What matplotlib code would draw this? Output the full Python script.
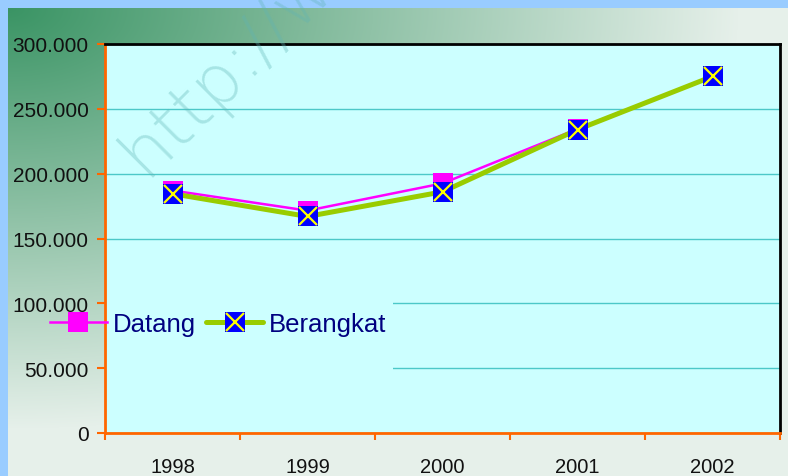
import numpy as np
import matplotlib
matplotlib.use('Agg')
import matplotlib.pyplot as plt
from matplotlib.lines import Line2D
from matplotlib.legend_handler import HandlerTuple
from matplotlib.patches import Rectangle

plt.rcParams['font.family'] = ['Liberation Sans', 'DejaVu Sans']

# ---- data ----
years = ['1998', '1999', '2000', '2001', '2002']
datang = [187000, 171500, 192500, 234500, 275000]
berangkat = [184500, 167000, 186000, 234000, 275000]
yticks = [0, 50000, 100000, 150000, 200000, 250000, 300000]
ytick_labels = ['0', '50.000', '100.000', '150.000', '200.000', '250.000', '300.000']
series_names = ['Datang', 'Berangkat']

W, H = 788, 477
fig = plt.figure(figsize=(W / 100, H / 100), dpi=100)

# ---- background gradient with light-blue border ----
yy, xx = np.mgrid[0:H, 0:W]
t = np.sqrt(((xx - 8) / 730.0) ** 2 + ((yy - 9) / 420.0) ** 2)
t = np.clip(t, 0, 1)
c0 = np.array([58, 148, 100]) / 255.0
c1 = np.array([230, 240, 234]) / 255.0
img = c0[None, None, :] * (1 - t[..., None]) + c1[None, None, :] * t[..., None]
img[:9, :, :] = [0.6, 0.8, 1.0]
img[:, :8, :] = [0.6, 0.8, 1.0]
fig.figimage(img, xo=0, yo=0, origin='upper', zorder=-10)

# ---- axes ----
ax = fig.add_axes([105 / W, 1 - 434 / H, 675 / W, 389 / H])
ax.set_facecolor('#CCFFFF')
x = np.arange(len(years))

ax.plot(x, datang, color='#FF00FF', lw=1.8, marker='s', ms=13.7,
        mfc='#FF00FF', mec='#FF00FF', mew=0, zorder=3)
ax.plot(x, berangkat, color='#99CC00', lw=3.6, marker='s', ms=13.7,
        mfc='#0000FF', mec='#0000FF', mew=0, zorder=4)
ax.plot(x, berangkat, ls='none', marker='x', ms=12.5, mec='#FFFF00',
        mew=1.6, zorder=5)

ax.set_xlim(-0.5, len(years) - 0.5)
ax.set_ylim(0, 300000)

ax.set_axisbelow(True)
ax.yaxis.grid(True, color='#4CC8C8', lw=1.0)
ax.xaxis.grid(False)

ax.set_yticks(yticks, labels=ytick_labels)
ax.tick_params(axis='y', direction='out', length=5.8, width=1.5,
               color='#FF6600', labelsize=15, pad=6, labelcolor='#111111')

ax.set_xticks(np.arange(-0.5, len(years), 1.0))
ax.set_xticklabels([])
ax.set_xticks(x, minor=True)
ax.set_xticklabels(years, minor=True)
ax.tick_params(axis='x', which='major', direction='out', length=5, width=1.5,
               color='#FF6600')
ax.tick_params(axis='x', which='minor', length=0, pad=17, labelsize=14.5,
               labelcolor='#111111')

for s in ['left', 'bottom']:
    ax.spines[s].set_color('#FF6600')
    ax.spines[s].set_linewidth(2)
for s in ['top', 'right']:
    ax.spines[s].set_color('#000000')
    ax.spines[s].set_linewidth(2)

# legend area cover (hides gridlines behind legend)
ax.add_patch(Rectangle((0, 0.139), 0.4267, 0.231, transform=ax.transAxes,
                       facecolor='#CCFFFF', edgecolor='none', zorder=1))

# ---- legend ----
h1 = Line2D([], [], color='#FF00FF', lw=1.8, marker='s', ms=13.7,
            mfc='#FF00FF', mec='#FF00FF', mew=0)
h2a = Line2D([], [], color='#99CC00', lw=3.6, marker='s', ms=13.7,
             mfc='#0000FF', mec='#0000FF', mew=0, solid_capstyle='round')
h2b = Line2D([], [], ls='none', marker='x', ms=12.5, mec='#FFFF00', mew=1.6)
leg = fig.legend([h1, (h2a, h2b)], series_names,
                 handler_map={tuple: HandlerTuple(ndivide=1)},
                 loc='center left', bbox_to_anchor=(50 / W, 1 - 325 / H),
                 ncol=2, frameon=False, borderpad=0, borderaxespad=0,
                 handlelength=2.2, handletextpad=0.25, columnspacing=0.4,
                 prop={'family': 'Liberation Sans', 'size': 18.5},
                 numpoints=1)
for tx in leg.get_texts():
    tx.set_color('#000080')

# ---- watermark ----
fig.text(145 / W, 1 - 178 / H, 'http://w', rotation=45, rotation_mode='anchor',
         ha='left', va='baseline', fontsize=50, color='#5FB4B4', alpha=0.35,
         family='DejaVu Sans', fontweight='light', zorder=10)

fig.savefig('out.png', dpi=100)
